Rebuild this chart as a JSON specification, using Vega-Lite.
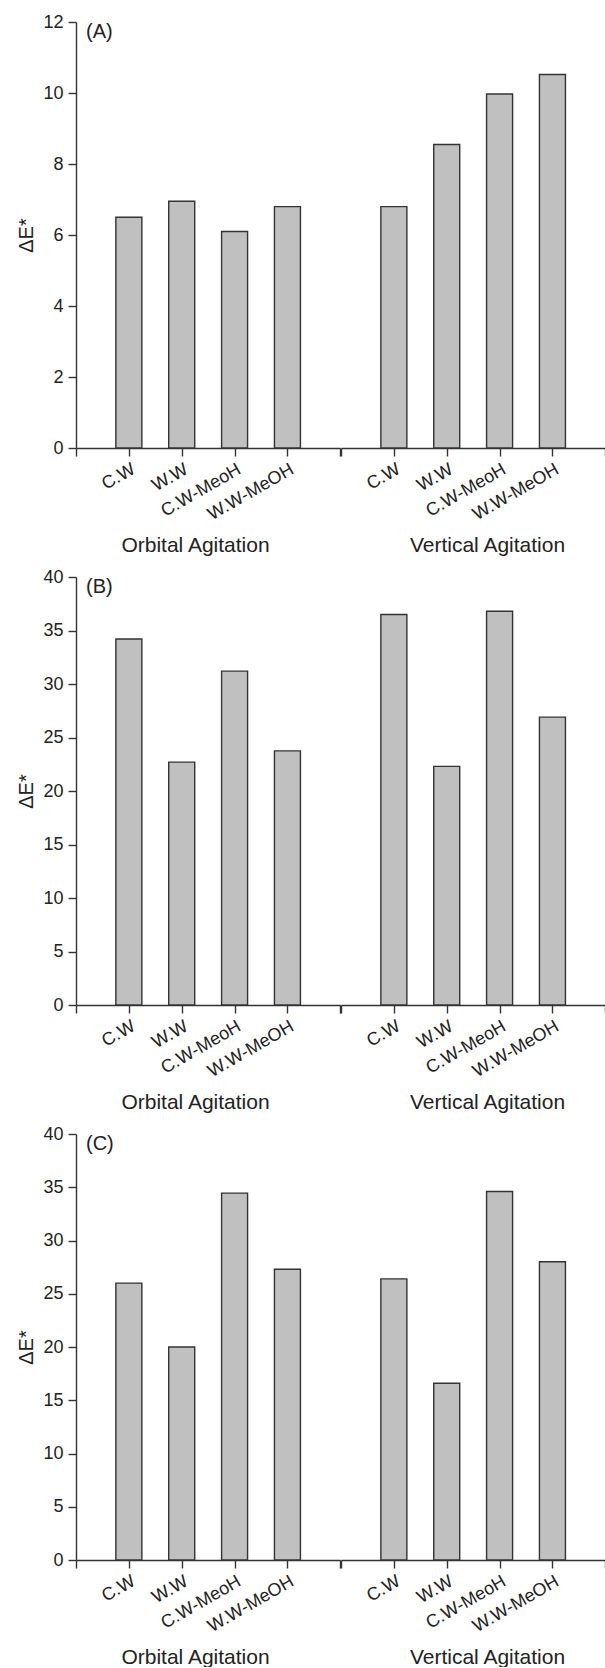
{
  "$schema": "https://vega.github.io/schema/vega-lite/v6.json",
  "padding": {"left": 16, "top": 13, "right": 0, "bottom": 0},
  "config": {
    "font": "Liberation Sans",
    "view": {"stroke": null},
    "axis": {
      "domainColor": "#333333", "domainWidth": 1.4,
      "tickColor": "#333333", "tickWidth": 1.4, "tickSize": 8,
      "labelColor": "#222222", "titleColor": "#222222",
      "labelFont": "Liberation Sans", "titleFont": "Liberation Sans",
      "labelFontSize": 18, "titleFontSize": 20, "titleFontWeight": "normal",
      "grid": false
    },
    "axisX": {
      "labelAngle": -30, "labelAlign": "right", "labelBaseline": "top",
      "labelFontSize": 18, "labelPadding": 4,
      "titleFontSize": 21, "titleBaseline": "alphabetic", "titleY": 103
    },
    "axisY": {"labelPadding": 5, "titlePadding": 6}
  },
  "data": {
    "values": [
      {"panel": "A", "group": "Orbital Agitation", "treatment": "C.W", "value": 6.5},
      {"panel": "A", "group": "Orbital Agitation", "treatment": "W.W", "value": 6.95},
      {"panel": "A", "group": "Orbital Agitation", "treatment": "C.W-MeoH", "value": 6.1},
      {"panel": "A", "group": "Orbital Agitation", "treatment": "W.W-MeOH", "value": 6.8},
      {"panel": "A", "group": "Vertical Agitation", "treatment": "C.W", "value": 6.8},
      {"panel": "A", "group": "Vertical Agitation", "treatment": "W.W", "value": 8.55},
      {"panel": "A", "group": "Vertical Agitation", "treatment": "C.W-MeoH", "value": 9.97},
      {"panel": "A", "group": "Vertical Agitation", "treatment": "W.W-MeOH", "value": 10.52},
      {"panel": "B", "group": "Orbital Agitation", "treatment": "C.W", "value": 34.2},
      {"panel": "B", "group": "Orbital Agitation", "treatment": "W.W", "value": 22.7},
      {"panel": "B", "group": "Orbital Agitation", "treatment": "C.W-MeoH", "value": 31.2},
      {"panel": "B", "group": "Orbital Agitation", "treatment": "W.W-MeOH", "value": 23.75},
      {"panel": "B", "group": "Vertical Agitation", "treatment": "C.W", "value": 36.5},
      {"panel": "B", "group": "Vertical Agitation", "treatment": "W.W", "value": 22.3},
      {"panel": "B", "group": "Vertical Agitation", "treatment": "C.W-MeoH", "value": 36.8},
      {"panel": "B", "group": "Vertical Agitation", "treatment": "W.W-MeOH", "value": 26.9},
      {"panel": "C", "group": "Orbital Agitation", "treatment": "C.W", "value": 26.0},
      {"panel": "C", "group": "Orbital Agitation", "treatment": "W.W", "value": 20.0},
      {"panel": "C", "group": "Orbital Agitation", "treatment": "C.W-MeoH", "value": 34.45},
      {"panel": "C", "group": "Orbital Agitation", "treatment": "W.W-MeOH", "value": 27.3},
      {"panel": "C", "group": "Vertical Agitation", "treatment": "C.W", "value": 26.4},
      {"panel": "C", "group": "Vertical Agitation", "treatment": "W.W", "value": 16.6},
      {"panel": "C", "group": "Vertical Agitation", "treatment": "C.W-MeoH", "value": 34.6},
      {"panel": "C", "group": "Vertical Agitation", "treatment": "W.W-MeOH", "value": 28.0}
    ]
  },
  "columns": 2,
  "spacing": {"row": 129, "column": 0},
  "bounds": "flush",
  "concat": [
    {
      "width": 264.3, "height": 426,
      "layer": [
        {
          "transform": [{"filter": "datum.panel === 'A' && datum.group === 'Orbital Agitation'"}],
          "mark": {"type": "bar", "fill": "#c0c0c0", "stroke": "#333333", "strokeWidth": 1.4, "size": 26},
          "encoding": {
            "x": {"field": "treatment", "type": "nominal", "sort": null,
                  "scale": {"type": "point", "padding": 0, "domain": [" ", "C.W", "W.W", "C.W-MeoH", "W.W-MeOH", "  "]},
                  "axis": {"title": "Orbital Agitation", "titleX": 119}},
            "y": {"field": "value", "type": "quantitative",
                  "scale": {"domain": [0, 12], "nice": false},
                  "axis": {"title": "ΔE*", "values": [0, 2, 4, 6, 8, 10, 12]}}
          }
        },
        {
          "data": {"values": [{"label": "(A)"}]},
          "mark": {"type": "text", "align": "left", "baseline": "top", "dx": 10, "dy": 0, "fontSize": 20, "color": "#222222"},
          "encoding": {
            "x": {"datum": " ", "type": "nominal"},
            "y": {"datum": 12, "type": "quantitative"},
            "text": {"field": "label"}
          }
        }
      ]
    },
    {
      "width": 264.3, "height": 426,
      "transform": [{"filter": "datum.panel === 'A' && datum.group === 'Vertical Agitation'"}],
      "mark": {"type": "bar", "fill": "#c0c0c0", "stroke": "#333333", "strokeWidth": 1.4, "size": 26},
      "encoding": {
        "x": {"field": "treatment", "type": "nominal", "sort": null,
              "scale": {"type": "point", "padding": 0, "domain": ["  ", "C.W", "W.W", "C.W-MeoH", "W.W-MeOH", "   "]},
              "axis": {"title": "Vertical Agitation", "titleX": 146}},
        "y": {"field": "value", "type": "quantitative", "scale": {"domain": [0, 12], "nice": false}, "axis": null}
      }
    },
    {
      "width": 264.3, "height": 428,
      "layer": [
        {
          "transform": [{"filter": "datum.panel === 'B' && datum.group === 'Orbital Agitation'"}],
          "mark": {"type": "bar", "fill": "#c0c0c0", "stroke": "#333333", "strokeWidth": 1.4, "size": 26},
          "encoding": {
            "x": {"field": "treatment", "type": "nominal", "sort": null,
                  "scale": {"type": "point", "padding": 0, "domain": [" ", "C.W", "W.W", "C.W-MeoH", "W.W-MeOH", "  "]},
                  "axis": {"title": "Orbital Agitation", "titleX": 119}},
            "y": {"field": "value", "type": "quantitative",
                  "scale": {"domain": [0, 40], "nice": false},
                  "axis": {"title": "ΔE*", "values": [0, 5, 10, 15, 20, 25, 30, 35, 40]}}
          }
        },
        {
          "data": {"values": [{"label": "(B)"}]},
          "mark": {"type": "text", "align": "left", "baseline": "top", "dx": 10, "dy": 0, "fontSize": 20, "color": "#222222"},
          "encoding": {
            "x": {"datum": " ", "type": "nominal"},
            "y": {"datum": 40, "type": "quantitative"},
            "text": {"field": "label"}
          }
        }
      ]
    },
    {
      "width": 264.3, "height": 428,
      "transform": [{"filter": "datum.panel === 'B' && datum.group === 'Vertical Agitation'"}],
      "mark": {"type": "bar", "fill": "#c0c0c0", "stroke": "#333333", "strokeWidth": 1.4, "size": 26},
      "encoding": {
        "x": {"field": "treatment", "type": "nominal", "sort": null,
              "scale": {"type": "point", "padding": 0, "domain": ["  ", "C.W", "W.W", "C.W-MeoH", "W.W-MeOH", "   "]},
              "axis": {"title": "Vertical Agitation", "titleX": 146}},
        "y": {"field": "value", "type": "quantitative", "scale": {"domain": [0, 40], "nice": false}, "axis": null}
      }
    },
    {
      "width": 264.3, "height": 426,
      "layer": [
        {
          "transform": [{"filter": "datum.panel === 'C' && datum.group === 'Orbital Agitation'"}],
          "mark": {"type": "bar", "fill": "#c0c0c0", "stroke": "#333333", "strokeWidth": 1.4, "size": 26},
          "encoding": {
            "x": {"field": "treatment", "type": "nominal", "sort": null,
                  "scale": {"type": "point", "padding": 0, "domain": [" ", "C.W", "W.W", "C.W-MeoH", "W.W-MeOH", "  "]},
                  "axis": {"title": "Orbital Agitation", "titleX": 119}},
            "y": {"field": "value", "type": "quantitative",
                  "scale": {"domain": [0, 40], "nice": false},
                  "axis": {"title": "ΔE*", "values": [0, 5, 10, 15, 20, 25, 30, 35, 40]}}
          }
        },
        {
          "data": {"values": [{"label": "(C)"}]},
          "mark": {"type": "text", "align": "left", "baseline": "top", "dx": 10, "dy": 0, "fontSize": 20, "color": "#222222"},
          "encoding": {
            "x": {"datum": " ", "type": "nominal"},
            "y": {"datum": 40, "type": "quantitative"},
            "text": {"field": "label"}
          }
        }
      ]
    },
    {
      "width": 264.3, "height": 426,
      "transform": [{"filter": "datum.panel === 'C' && datum.group === 'Vertical Agitation'"}],
      "mark": {"type": "bar", "fill": "#c0c0c0", "stroke": "#333333", "strokeWidth": 1.4, "size": 26},
      "encoding": {
        "x": {"field": "treatment", "type": "nominal", "sort": null,
              "scale": {"type": "point", "padding": 0, "domain": ["  ", "C.W", "W.W", "C.W-MeoH", "W.W-MeOH", "   "]},
              "axis": {"title": "Vertical Agitation", "titleX": 146}},
        "y": {"field": "value", "type": "quantitative", "scale": {"domain": [0, 40], "nice": false}, "axis": null}
      }
    }
  ]
}
